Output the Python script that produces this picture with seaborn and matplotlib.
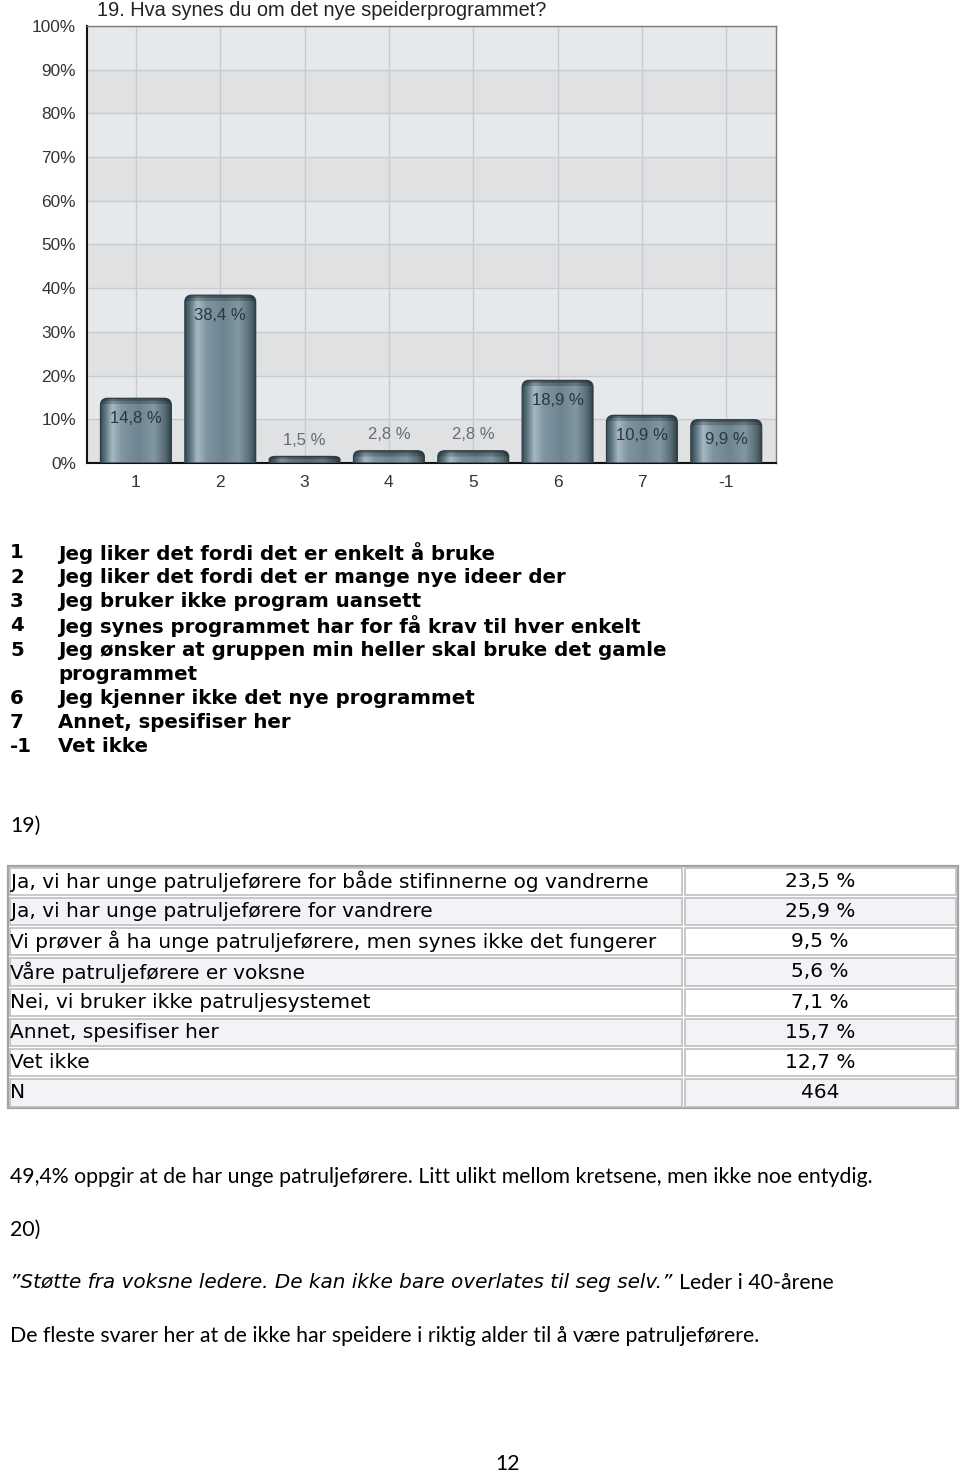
import numpy as np
import pandas as pd
import matplotlib
matplotlib.use("Agg")
import matplotlib.pyplot as plt
import seaborn as sns
from matplotlib.patches import Rectangle, PathPatch
from matplotlib.path import Path
from matplotlib.colors import to_rgb

# ---------------- data ----------------
categories = ["1", "2", "3", "4", "5", "6", "7", "-1"]
values = [14.8, 38.4, 1.5, 2.8, 2.8, 18.9, 10.9, 9.9]
value_labels = ["14,8 %", "38,4 %", "1,5 %", "2,8 %", "2,8 %", "18,9 %", "10,9 %", "9,9 %"]
chart_title = "19. Hva synes du om det nye speiderprogrammet?"
y_ticks = [0, 10, 20, 30, 40, 50, 60, 70, 80, 90, 100]

legend_codes = ["1", "2", "3", "4", "5", "", "6", "7", "-1"]
legend_texts = [
    "Jeg liker det fordi det er enkelt å bruke",
    "Jeg liker det fordi det er mange nye ideer der",
    "Jeg bruker ikke program uansett",
    "Jeg synes programmet har for få krav til hver enkelt",
    "Jeg ønsker at gruppen min heller skal bruke det gamle",
    "programmet",
    "Jeg kjenner ikke det nye programmet",
    "Annet, spesifiser her",
    "Vet ikke",
]

table_rows = [
    "Ja, vi har unge patruljeførere for både stifinnerne og vandrerne",
    "Ja, vi har unge patruljeførere for vandrere",
    "Vi prøver å ha unge patruljeførere, men synes ikke det fungerer",
    "Våre patruljeførere er voksne",
    "Nei, vi bruker ikke patruljesystemet",
    "Annet, spesifiser her",
    "Vet ikke",
    "N",
]
table_values = ["23,5 %", "25,9 %", "9,5 %", "5,6 %", "7,1 %", "15,7 %", "12,7 %", "464"]

heading_19 = "19)"
summary_text = "49,4% oppgir at de har unge patruljeførere. Litt ulikt mellom kretsene, men ikke noe entydig."
heading_20 = "20)"
quote_text = "\u201dStøtte fra voksne ledere. De kan ikke bare overlates til seg selv.\u201d"
quote_author = "Leder i 40-årene"
closing_text = "De fleste svarer her at de ikke har speidere i riktig alder til å være patruljeførere."
page_number = "12"

# ---------------- setup ----------------
W, H = 960, 1473
sns.set_theme(style="white")
plt.rcParams["font.family"] = ["DejaVu Sans"]

ARIAL = ["Liberation Sans", "DejaVu Sans"]
CALIBRI = ["Lato", "DejaVu Sans"]
VERDANA = ["DejaVu Sans"]
BODY_FS = 15.3


def fy(y):
    return 1 - y / H


fig = plt.figure(figsize=(W / 100, H / 100), dpi=100)
fig.patch.set_facecolor("white")

# page overlay axes in pixel coordinates (for the table)
pg = fig.add_axes([0, 0, 1, 1], zorder=-1)
pg.set_xlim(0, W)
pg.set_ylim(H, 0)
pg.axis("off")

# ---------------- chart ----------------
ax = fig.add_axes([87 / W, fy(463), (776 - 87) / W, (463 - 26) / H])
df = pd.DataFrame({"kategori": categories, "andel": values})
sns.barplot(data=df, x="kategori", y="andel", order=categories, color="#66808c",
            width=0.84, ax=ax, zorder=3)
bars = list(ax.patches)

ax.set_xlim(-0.58, 7.59)
ax.set_ylim(0, 100)

light, dark = "#e6e9ec", "#e0e1e3"
for k in range(10):
    ax.axhspan(10 * k, 10 * k + 10, color=(light if k % 2 == 1 else dark), zorder=0.2, lw=0)

ax.set_axisbelow(True)
ax.grid(True, color="#c8cacd", lw=1.0)
ax.set_yticks(y_ticks)
ax.set_yticklabels([f"{t}%" for t in y_ticks])
ax.set_xlabel("")
ax.set_ylabel("")
ax.tick_params(axis="both", length=4, width=1, color="black", labelsize=12.4,
               labelcolor="#333333", pad=4)
ax.tick_params(axis="x", pad=5)
for lbl in ax.get_xticklabels() + ax.get_yticklabels():
    lbl.set_fontfamily(ARIAL)
for s in ["left", "bottom"]:
    ax.spines[s].set_color("#111111")
    ax.spines[s].set_linewidth(1.5)
for s in ["top", "right"]:
    ax.spines[s].set_color("#7a7a7a")
    ax.spines[s].set_linewidth(1.0)

# cylinder-like gradient on bars
stops = [(0.0, "#3a4b54"), (0.07, "#5a7480"), (0.17, "#a6b9c2"), (0.30, "#8097a2"),
         (0.55, "#6e8591"), (0.76, "#8198a2"), (0.92, "#586c75"), (1.0, "#34444c")]
N = 96
xs = np.linspace(0, 1, N)
horiz = np.zeros((N, 3))
for c in range(3):
    horiz[:, c] = np.interp(xs, [s[0] for s in stops], [to_rgb(s[1])[c] for s in stops])

fig.canvas.draw()
for p, v in zip(bars, values):
    x0, w, h = p.get_x(), p.get_width(), p.get_height()
    x1 = x0 + w
    (px0, py0) = ax.transData.transform((x0, 0))
    (px1, py1) = ax.transData.transform((x1, h))
    wpx, hpx = px1 - px0, py1 - py0
    rx = 7 / wpx * w
    ry = min(7 / hpx * h, h * 0.5)
    path = Path([(x0, 0), (x1, 0), (x1, h - ry), (x1, h), (x1 - rx, h),
                 (x0 + rx, h), (x0, h), (x0, h - ry), (x0, 0)],
                [Path.MOVETO, Path.LINETO, Path.LINETO, Path.CURVE3, Path.CURVE3,
                 Path.LINETO, Path.CURVE3, Path.CURVE3, Path.CLOSEPOLY])
    p.set_facecolor("none")
    p.set_edgecolor("none")
    M = max(int(round(hpx)), 3)
    rows = np.arange(M)
    vf = np.ones(M)
    vf = np.where(rows < 3, 0.6, vf)
    vf = np.where((rows >= 3) & (rows < 6), 0.78, vf)
    arr = np.clip(horiz[None, :, :] * vf[:, None, None], 0, 1)
    pp = PathPatch(path, transform=ax.transData, fc="none", ec="#2e3c43", lw=0.9, zorder=4)
    ax.add_patch(pp)
    im = ax.imshow(arr, extent=(x0, x1, 0, h), origin="upper", aspect="auto",
                   interpolation="bilinear", zorder=3.5)
    im.set_clip_path(pp)

ax.set_xlim(-0.58, 7.59)
ax.set_ylim(0, 100)

for i, (v, lab) in enumerate(zip(values, value_labels)):
    if v < 5:
        ax.text(i, v + 3.7, lab, ha="center", va="center", fontsize=12,
                color="#686c70", family=ARIAL, zorder=6)
    else:
        ax.text(i, v - 4.6, lab, ha="center", va="center", fontsize=12,
                color="#2c363b", family=ARIAL, zorder=6)

fig.text(97 / W, fy(11), chart_title, fontsize=14.4, family=ARIAL, color="#222222",
         ha="left", va="center")

# ---------------- legend list ----------------
for i, (code, txt) in enumerate(zip(legend_codes, legend_texts)):
    y = 553 + 24.25 * i
    if code:
        fig.text(10 / W, fy(y), code, fontsize=14.2, fontweight="bold", family=VERDANA,
                 color="black", ha="left", va="center")
    fig.text(58 / W, fy(y), txt, fontsize=14.2, fontweight="bold", family=VERDANA,
             color="black", ha="left", va="center")

fig.text(10 / W, fy(826), heading_19, fontsize=BODY_FS, family=CALIBRI, color="black",
         ha="left", va="center")

# ---------------- table ----------------
top, bot = 866, 1108
rh = (bot - top) / len(table_rows)
pg.add_patch(Rectangle((8, top), 950, bot - top, fill=False, ec="#a3a3a3", lw=1.6))
for r, (lab, val) in enumerate(zip(table_rows, table_values)):
    y0 = top + r * rh
    fc = "#f1f3f6" if r % 2 == 1 else "white"
    pg.add_patch(Rectangle((10, y0 + 1.5), 672, rh - 3, fc=fc, ec="#b9b9b9", lw=1.1))
    pg.add_patch(Rectangle((685, y0 + 1.5), 271, rh - 3, fc=fc, ec="#b9b9b9", lw=1.1))
    yc = y0 + rh / 2
    pg.text(10.5, yc, lab, fontsize=14.5, family=VERDANA, color="black", ha="left", va="center")
    pg.text(820, yc, val, fontsize=14.5, family=VERDANA, color="black", ha="center", va="center")

# ---------------- body text ----------------
fig.text(10 / W, fy(1177), summary_text, fontsize=BODY_FS, family=CALIBRI, color="black",
         ha="left", va="center")
fig.text(10 / W, fy(1230), heading_20, fontsize=BODY_FS, family=CALIBRI, color="black",
         ha="left", va="center")
tq = fig.text(10 / W, fy(1283), quote_text, fontsize=14.4, family=VERDANA, style="italic",
              color="black", ha="left", va="center")
pg.annotate(quote_author, xy=(1, 0.5), xycoords=tq, xytext=(5, 0), textcoords="offset points",
            fontsize=BODY_FS, family=CALIBRI, color="black", ha="left", va="center")
fig.text(10 / W, fy(1336), closing_text, fontsize=BODY_FS, family=CALIBRI, color="black",
         ha="left", va="center")
fig.text(508 / W, fy(1464), page_number, fontsize=BODY_FS, family=CALIBRI, color="black",
         ha="center", va="center")

fig.savefig("out.png", dpi=100)
